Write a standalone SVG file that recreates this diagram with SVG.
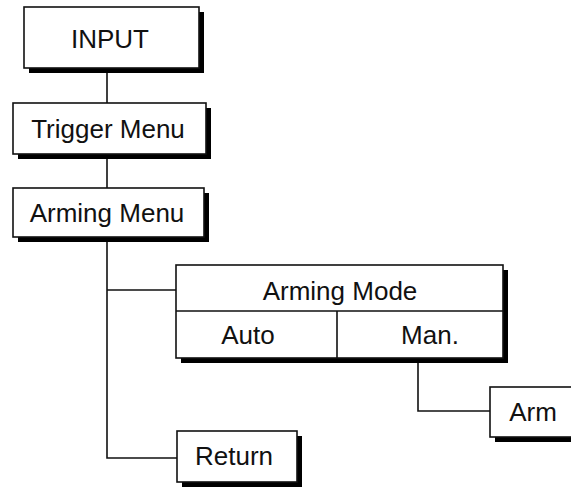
<svg xmlns="http://www.w3.org/2000/svg" width="571" height="487" viewBox="0 0 571 487">
<style>
.sh{fill:#000}
.bx{fill:#fff;stroke:#111;stroke-width:1.6}
.t{font-family:"Liberation Sans",Arial,sans-serif;font-size:26px;fill:#111;text-anchor:middle}
.ln{fill:none;stroke:#111;stroke-width:1.6}
</style>
<rect width="571" height="487" fill="#fff"/>
<g id="connectors">
<path class="ln" d="M107 68V103M107 154V188M107 237V458H177M107 290H176M418 358V411H490"/>
</g>
<g id="input">
<rect class="sh" x="29" y="12" width="175" height="61"/>
<rect class="bx" x="24" y="7" width="175" height="61"/>
<text class="t" x="110" y="48">INPUT</text>
</g>
<g id="trigger">
<rect class="sh" x="18" y="108" width="193" height="51"/>
<rect class="bx" x="13" y="103" width="193" height="51"/>
<text class="t" x="108" y="138">Trigger Menu</text>
</g>
<g id="arming-menu">
<rect class="sh" x="18" y="193" width="191" height="49"/>
<rect class="bx" x="13" y="188" width="191" height="49"/>
<text class="t" x="107" y="222">Arming Menu</text>
</g>
<g id="arming-mode">
<rect class="sh" x="181" y="270" width="327" height="93"/>
<rect class="bx" x="176" y="265" width="327" height="93"/>
<path class="ln" d="M176 311H503M337 311V358"/>
<text class="t" x="340" y="300">Arming Mode</text>
<text class="t" x="248" y="344">Auto</text>
<text class="t" x="430" y="344">Man.</text>
</g>
<g id="arm">
<rect class="sh" x="495" y="392" width="90" height="50"/>
<rect class="bx" x="490" y="387" width="90" height="50"/>
<text class="t" x="533" y="421">Arm</text>
</g>
<g id="return">
<rect class="sh" x="182" y="436" width="120" height="51"/>
<rect class="bx" x="177" y="431" width="120" height="51"/>
<text class="t" x="234" y="465">Return</text>
</g>
</svg>
